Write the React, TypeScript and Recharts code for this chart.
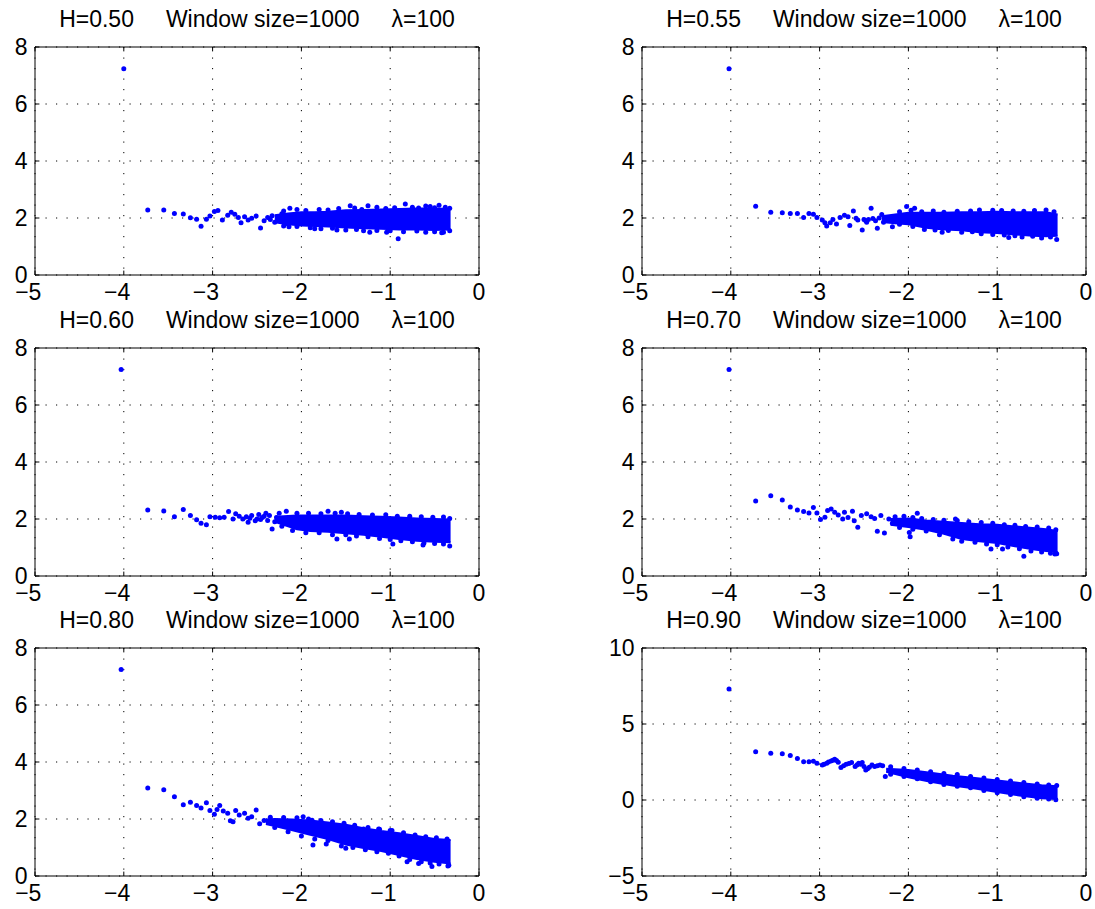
import React from 'react';
import { ComposedChart, Area, Scatter, XAxis, YAxis, CartesianGrid, ReferenceArea } from 'recharts';

const FONT = '"Liberation Sans", Arial, Helvetica, sans-serif';
const BLUE = '#0000FF';
const PW = 444;
const PH = 228;
const TOPPAD = 20;

const xTicks = [-5, -4, -3, -2, -1, 0];
const yTicks8 = [0, 2, 4, 6, 8];
const yTicks10 = [-5, 0, 5, 10];
const hurst = ['0.50', '0.55', '0.60', '0.70', '0.80', '0.90'];
const windowSize = 1000;
const lambda = 100;

// ---------- H = 0.50 ----------
const h050Pts = [
  [-4.0, 7.24], [-3.73, 2.28], [-3.55, 2.28], [-3.43, 2.16], [-3.33, 2.14], [-3.25, 2.01], [-3.18, 1.96],
  [-3.13, 1.71], [-3.07, 1.96], [-3.03, 2.07], [-2.98, 2.23], [-2.94, 2.26], [-2.89, 1.93], [-2.83, 2.1],
  [-2.79, 2.2], [-2.75, 2.13], [-2.71, 2.02], [-2.68, 1.83], [-2.64, 2.04], [-2.6, 1.93], [-2.56, 1.99],
  [-2.51, 2.07], [-2.46, 1.65], [-2.42, 1.9], [-2.38, 2.02], [-2.35, 1.95], [-2.33, 2.08], [-2.3, 1.85],
  [-2.27, 2.0], [-2.24, 1.92], [-2.22, 2.15], [-2.18, 1.8],
  [-2.13, 2.34], [-2.14, 1.69], [-1.45, 2.43], [-1.25, 2.43], [-1.23, 1.5], [-1.04, 1.5], [-0.91, 1.27],
  [-0.83, 2.49], [-0.4, 1.5], [-1.85, 1.62], [-1.6, 1.58], [-0.6, 2.42], [-0.45, 2.45],
  [-2.2, 2.25], [-2.05, 2.3], [-1.95, 2.26], [-1.8, 2.3], [-1.7, 2.28], [-1.58, 2.33],
  [-1.4, 2.35], [-1.32, 2.3], [-1.15, 2.38], [-1.05, 2.33], [-0.95, 2.36], [-0.75, 2.38], [-0.68, 2.35],
  [-0.55, 2.4], [-0.5, 2.36], [-0.38, 2.38], [-0.33, 2.34],
  [-2.2, 1.72], [-2.05, 1.7], [-1.9, 1.66], [-1.78, 1.62], [-1.65, 1.64], [-1.5, 1.58],
  [-1.38, 1.6], [-1.3, 1.55], [-1.15, 1.56], [-1.0, 1.55], [-0.85, 1.52], [-0.7, 1.54], [-0.6, 1.5],
  [-0.5, 1.52], [-0.42, 1.48], [-0.33, 1.55],
];
const h050BandX = [-2.3, -2.15, -2.0, -1.85, -1.7, -1.5, -1.3, -1.1, -0.9, -0.7, -0.5, -0.32];
const h050Lo = [1.85, 1.78, 1.74, 1.72, 1.7, 1.67, 1.64, 1.62, 1.6, 1.6, 1.58, 1.6];
const h050Hi = [2.1, 2.16, 2.2, 2.2, 2.22, 2.27, 2.28, 2.3, 2.32, 2.33, 2.33, 2.32];

// ---------- H = 0.55 ----------
const h055Pts = [
  [-4.02, 7.24], [-3.72, 2.41], [-3.55, 2.2], [-3.42, 2.18], [-3.33, 2.16], [-3.25, 2.16], [-3.18, 2.02],
  [-3.12, 2.16], [-3.07, 2.13], [-3.03, 2.02], [-2.97, 1.93], [-2.94, 1.83], [-2.92, 1.72], [-2.88, 1.83],
  [-2.85, 1.95], [-2.81, 1.79], [-2.77, 2.02], [-2.72, 2.1], [-2.68, 2.04], [-2.66, 1.74], [-2.62, 2.25],
  [-2.59, 1.99], [-2.57, 1.93], [-2.52, 1.58], [-2.5, 1.95], [-2.48, 1.9], [-2.47, 1.85], [-2.45, 1.95],
  [-2.42, 2.34], [-2.4, 1.98], [-2.37, 1.9], [-2.35, 1.64], [-2.33, 2.0], [-2.28, 1.85],
  [-2.18, 1.69], [-2.02, 2.4], [-1.93, 2.34], [-1.62, 1.5], [-0.87, 1.32], [-0.33, 1.25],
  [-2.3, 2.12], [-2.1, 2.22], [-1.97, 2.27], [-1.85, 2.22], [-1.72, 2.25], [-1.6, 2.2], [-1.45, 2.24],
  [-1.3, 2.25], [-1.2, 2.28], [-1.05, 2.27], [-0.95, 2.26], [-0.82, 2.25], [-0.7, 2.24], [-0.58, 2.26],
  [-0.45, 2.28], [-0.36, 2.22],
  [-2.1, 1.78], [-1.95, 1.7], [-1.82, 1.6], [-1.7, 1.58], [-1.55, 1.56], [-1.4, 1.5],
  [-1.28, 1.52], [-1.18, 1.45], [-1.05, 1.42], [-0.92, 1.4], [-0.8, 1.38], [-0.72, 1.33], [-0.6, 1.36],
  [-0.5, 1.3], [-0.4, 1.33],
];
const h055BandX = [-2.3, -2.15, -2.0, -1.8, -1.6, -1.4, -1.2, -1.0, -0.8, -0.6, -0.45, -0.32];
const h055Lo = [1.86, 1.82, 1.78, 1.66, 1.6, 1.57, 1.5, 1.47, 1.42, 1.38, 1.36, 1.38];
const h055Hi = [2.06, 2.12, 2.18, 2.18, 2.18, 2.2, 2.2, 2.22, 2.2, 2.2, 2.2, 2.12];

// ---------- H = 0.60 ----------
const h060Pts = [
  [-4.03, 7.25], [-3.73, 2.32], [-3.55, 2.28], [-3.43, 2.08], [-3.33, 2.33], [-3.25, 2.12], [-3.18, 1.97],
  [-3.13, 1.85], [-3.07, 1.8], [-3.03, 2.08], [-2.97, 2.06], [-2.92, 2.04], [-2.87, 2.06], [-2.82, 2.26],
  [-2.77, 2.0], [-2.74, 2.18], [-2.7, 2.1], [-2.66, 2.0], [-2.62, 2.08], [-2.6, 1.89], [-2.58, 2.03],
  [-2.56, 2.12], [-2.52, 1.94], [-2.5, 2.0], [-2.48, 2.16], [-2.46, 1.98], [-2.44, 2.05], [-2.42, 2.1],
  [-2.4, 2.2], [-2.38, 1.95], [-2.36, 2.12], [-2.33, 1.65], [-2.3, 1.9], [-2.28, 2.05], [-2.25, 1.98],
  [-2.17, 2.27], [-1.6, 1.3], [-1.46, 1.3],
  [-0.97, 1.12], [-0.63, 1.09], [-0.33, 1.05], [-1.7, 2.27], [-1.55, 2.24],
  [-2.25, 2.2], [-2.05, 2.2], [-1.92, 2.2], [-1.78, 2.18], [-1.62, 2.2], [-1.48, 2.18],
  [-1.35, 2.16], [-1.2, 2.14], [-1.05, 2.15], [-0.92, 2.1], [-0.78, 2.1], [-0.65, 2.08], [-0.52, 2.06],
  [-0.4, 2.07], [-0.33, 2.02],
  [-2.22, 1.75], [-2.1, 1.6], [-1.95, 1.52], [-1.8, 1.52], [-1.65, 1.45], [-1.5, 1.45], [-1.38, 1.4],
  [-1.25, 1.38], [-1.12, 1.32], [-1.0, 1.28], [-0.88, 1.24], [-0.75, 1.2], [-0.62, 1.16], [-0.5, 1.14],
  [-0.4, 1.12],
];
const h060BandX = [-2.3, -2.2, -2.05, -1.9, -1.7, -1.5, -1.3, -1.1, -0.9, -0.7, -0.5, -0.32];
const h060Lo = [1.9, 1.8, 1.64, 1.58, 1.55, 1.5, 1.45, 1.38, 1.3, 1.24, 1.2, 1.18];
const h060Hi = [2.08, 2.1, 2.12, 2.12, 2.12, 2.12, 2.1, 2.08, 2.05, 2.02, 2.0, 1.98];

// ---------- H = 0.70 ----------
const h070Pts = [
  [-4.02, 7.25], [-3.72, 2.63], [-3.55, 2.82], [-3.42, 2.67], [-3.33, 2.42], [-3.25, 2.32], [-3.18, 2.26],
  [-3.12, 2.21], [-3.07, 2.4], [-3.03, 2.21], [-2.99, 1.98], [-2.94, 2.06], [-2.91, 2.3], [-2.87, 2.35],
  [-2.83, 2.24], [-2.79, 2.14], [-2.74, 2.0], [-2.72, 2.24], [-2.68, 2.05], [-2.63, 2.27], [-2.61, 1.94],
  [-2.57, 1.71], [-2.53, 2.12], [-2.47, 2.18], [-2.42, 2.08], [-2.38, 2.02], [-2.35, 1.57], [-2.31, 2.12],
  [-2.27, 1.51], [-2.22, 2.0], [-2.18, 1.85], [-1.99, 1.53], [-1.98, 1.38], [-1.9, 2.2], [-1.47, 2.0],
  [-1.07, 0.95], [-0.94, 0.95], [-0.7, 0.69], [-0.35, 0.77],
  [-2.15, 2.08], [-2.05, 2.1], [-1.95, 2.05], [-1.85, 2.02], [-1.72, 1.98], [-1.6, 1.96], [-1.45, 1.95],
  [-1.32, 1.9], [-1.18, 1.88], [-1.05, 1.85], [-0.92, 1.8], [-0.8, 1.78], [-0.68, 1.74], [-0.55, 1.72],
  [-0.42, 1.68], [-0.34, 1.62],
  [-2.1, 1.7], [-1.95, 1.64], [-1.8, 1.58], [-1.65, 1.45], [-1.5, 1.3], [-1.4, 1.22], [-1.25, 1.18],
  [-1.12, 1.12], [-1.0, 1.1], [-0.88, 1.02], [-0.75, 0.96], [-0.62, 0.88], [-0.5, 0.84], [-0.4, 0.8],
  [-0.33, 0.78],
];
const h070BandX = [-2.2, -2.0, -1.8, -1.6, -1.4, -1.2, -1.0, -0.8, -0.6, -0.45, -0.32];
const h070Lo = [1.8, 1.72, 1.62, 1.48, 1.3, 1.22, 1.16, 1.04, 0.94, 0.88, 0.84];
const h070Hi = [2.0, 2.02, 1.95, 1.9, 1.86, 1.82, 1.8, 1.74, 1.68, 1.64, 1.58];

// ---------- H = 0.80 ----------
const h080Pts = [
  [-4.03, 7.25], [-3.73, 3.09], [-3.55, 3.03], [-3.43, 2.78], [-3.33, 2.5], [-3.25, 2.59], [-3.18, 2.47],
  [-3.13, 2.39], [-3.07, 2.57], [-3.03, 2.3], [-2.98, 2.17], [-2.95, 2.33], [-2.92, 2.47], [-2.88, 2.28],
  [-2.83, 2.2], [-2.8, 1.94], [-2.77, 1.9], [-2.74, 2.3], [-2.7, 2.14], [-2.64, 2.2], [-2.6, 2.03],
  [-2.56, 2.08], [-2.51, 2.32], [-2.47, 1.83], [-2.42, 1.95], [-1.87, 1.09], [-1.72, 1.12], [-1.5, 0.97],
  [-0.81, 0.5], [-0.68, 0.44], [-0.53, 0.33], [-0.35, 0.35], [-1.98, 2.08], [-1.88, 1.96], [-0.98, 1.6],
  [-1.13, 1.65], [-1.3, 1.65],
  [-2.35, 2.06], [-2.2, 2.05], [-2.05, 2.04], [-1.92, 2.0], [-1.78, 1.95], [-1.65, 1.9], [-1.52, 1.85],
  [-1.4, 1.78], [-1.25, 1.7], [-1.12, 1.64], [-1.0, 1.6], [-0.85, 1.52], [-0.72, 1.44], [-0.6, 1.38],
  [-0.48, 1.34], [-0.36, 1.3],
  [-2.3, 1.7], [-2.15, 1.55], [-2.0, 1.4], [-1.85, 1.3], [-1.7, 1.25], [-1.55, 1.05], [-1.42, 1.0],
  [-1.28, 0.92], [-1.15, 0.85], [-1.02, 0.8], [-0.9, 0.7], [-0.78, 0.58], [-0.65, 0.5], [-0.55, 0.46],
  [-0.45, 0.42], [-0.34, 0.38],
];
const h080BandX = [-2.4, -2.3, -2.1, -1.9, -1.7, -1.5, -1.3, -1.1, -0.9, -0.7, -0.5, -0.32];
const h080Lo = [1.82, 1.75, 1.6, 1.45, 1.3, 1.1, 0.98, 0.88, 0.74, 0.6, 0.5, 0.44];
const h080Hi = [1.98, 2.0, 1.98, 1.95, 1.88, 1.8, 1.68, 1.58, 1.5, 1.4, 1.3, 1.26];

// ---------- H = 0.90 ----------
const h090Pts = [
  [-4.02, 7.3], [-3.72, 3.17], [-3.55, 3.08], [-3.42, 3.04], [-3.33, 2.93], [-3.25, 2.73], [-3.18, 2.51],
  [-3.12, 2.51], [-3.07, 2.55], [-3.03, 2.42], [-2.97, 2.31], [-2.95, 2.35], [-2.92, 2.42], [-2.9, 2.5],
  [-2.87, 2.57], [-2.85, 2.62], [-2.83, 2.68], [-2.81, 2.6], [-2.79, 2.49], [-2.76, 2.14], [-2.73, 2.25],
  [-2.7, 2.36], [-2.67, 2.4], [-2.64, 2.47], [-2.6, 2.2], [-2.58, 2.3], [-2.56, 2.42], [-2.54, 2.35],
  [-2.52, 2.47], [-2.5, 2.2], [-2.48, 1.98], [-2.46, 2.05], [-2.44, 2.16], [-2.41, 2.3], [-2.38, 2.2],
  [-2.35, 2.25], [-2.32, 2.31], [-2.29, 2.25], [-2.26, 1.55],
  [-2.2, 2.18], [-2.05, 2.08], [-1.9, 1.98], [-1.75, 1.86], [-1.6, 1.75], [-1.45, 1.68], [-1.3, 1.55],
  [-1.15, 1.45], [-1.0, 1.35], [-0.85, 1.25], [-0.7, 1.15], [-0.55, 1.05], [-0.42, 0.98], [-0.33, 0.96],
  [-2.2, 1.7], [-2.05, 1.55], [-1.9, 1.4], [-1.75, 1.2], [-1.6, 1.02], [-1.45, 0.9], [-1.3, 0.8],
  [-1.15, 0.62], [-1.0, 0.48], [-0.85, 0.36], [-0.7, 0.22], [-0.55, 0.12], [-0.42, 0.06], [-0.34, 0.02],
];
const h090BandX = [-2.25, -2.0, -1.75, -1.5, -1.25, -1.0, -0.75, -0.5, -0.32];
const h090Lo = [1.85, 1.5, 1.2, 0.95, 0.75, 0.52, 0.3, 0.12, 0.06];
const h090Hi = [2.05, 1.98, 1.8, 1.6, 1.45, 1.28, 1.12, 0.97, 0.9];

const colLefts = [35, 642];
const rowTops = [47, 348, 648];

const toPts = (arr: number[][]) => arr.map(([x, y]) => ({ x, y }));
const toBand = (bx: number[], lo: number[], hi: number[]) => bx.map((x, i) => ({ x, band: [lo[i], hi[i]] }));

const panels = [
  { h: hurst[0], pts: h050Pts, band: toBand(h050BandX, h050Lo, h050Hi), yTicks: yTicks8 },
  { h: hurst[1], pts: h055Pts, band: toBand(h055BandX, h055Lo, h055Hi), yTicks: yTicks8 },
  { h: hurst[2], pts: h060Pts, band: toBand(h060BandX, h060Lo, h060Hi), yTicks: yTicks8 },
  { h: hurst[3], pts: h070Pts, band: toBand(h070BandX, h070Lo, h070Hi), yTicks: yTicks8 },
  { h: hurst[4], pts: h080Pts, band: toBand(h080BandX, h080Lo, h080Hi), yTicks: yTicks8 },
  { h: hurst[5], pts: h090Pts, band: toBand(h090BandX, h090Lo, h090Hi), yTicks: yTicks10 },
];

const fmt = (v: number) => (v < 0 ? '\u2212' + Math.abs(v) : String(v));

const XTick = (props: any) => {
  const { x, y, payload } = props;
  return (
    <g>
      <line x1={x} x2={x} y1={y} y2={y - 4.4} stroke="#000" strokeWidth={1} />
      <line x1={x} x2={x} y1={y - PH} y2={y - PH + 4.4} stroke="#000" strokeWidth={1} />
      <text x={x + 6.4} y={y + 25} textAnchor="end" fontFamily={FONT} fontSize={23} fill="#000">
        {fmt(payload.value)}
      </text>
    </g>
  );
};

const YTick = (props: any) => {
  const { x, y, payload } = props;
  return (
    <g>
      <line x1={x} x2={x + 4.4} y1={y} y2={y} stroke="#000" strokeWidth={1} />
      <line x1={x + PW - 4.4} x2={x + PW} y1={y} y2={y} stroke="#000" strokeWidth={1} />
      <text x={x - 7.5} y={y} dy="0.36em" textAnchor="end" fontFamily={FONT} fontSize={23} fill="#000">
        {fmt(payload.value)}
      </text>
    </g>
  );
};

const Dot = (p: any) => <circle cx={p.cx} cy={p.cy} r={2.5} fill={BLUE} />;

const Panel = ({ idx }: { idx: number }) => {
  const p = panels[idx];
  const left = colLefts[idx % 2];
  const top = rowTops[Math.floor(idx / 2)];
  const yMin = p.yTicks[0];
  const yMax = p.yTicks[p.yTicks.length - 1];
  return (
    <>
      <div style={{ position: 'absolute', left: left - 35, top: top - TOPPAD }}>
        <ComposedChart width={35 + PW + 8} height={TOPPAD + PH + 32} margin={{ top: TOPPAD, right: 8, bottom: 0, left: 0 }}>
          <CartesianGrid stroke="#000" strokeDasharray="1.2 9.3" strokeWidth={1} />
          <XAxis
            type="number"
            dataKey="x"
            domain={[-5, 0]}
            ticks={xTicks}
            interval={0}
            allowDataOverflow
            axisLine={false}
            tickLine={false}
            tickSize={0}
            tickMargin={0}
            height={32}
            tick={XTick}
          />
          <YAxis
            type="number"
            dataKey="y"
            domain={[yMin, yMax]}
            ticks={p.yTicks}
            interval={0}
            allowDataOverflow
            axisLine={false}
            tickLine={false}
            tickSize={0}
            tickMargin={0}
            width={35}
            tick={YTick}
          />
          <Area
            data={p.band}
            dataKey="band"
            type="linear"
            fill={BLUE}
            fillOpacity={1}
            stroke={BLUE}
            strokeWidth={2}
            dot={false}
            activeDot={false}
            isAnimationActive={false}
          />
          <Scatter data={toPts(p.pts)} fill={BLUE} shape={Dot} isAnimationActive={false} />
          <ReferenceArea x1={-5} x2={0} y1={yMin} y2={yMax} fill="none" fillOpacity={0} stroke="#000" strokeWidth={1} ifOverflow="visible" />
        </ComposedChart>
      </div>
      <div
        style={{
          position: 'absolute',
          left,
          top: top - 39.5,
          width: PW,
          textAlign: 'center',
          whiteSpace: 'pre',
          fontFamily: FONT,
          fontSize: 23,
          lineHeight: '23px',
          color: '#000',
        }}
      >
        {`H=${p.h}     Window size=${windowSize}     \u03bb=${lambda}`}
      </div>
    </>
  );
};

export default function App() {
  return (
    <div
      style={{
        position: 'absolute',
        left: 0,
        top: 0,
        width: 1095,
        height: 909,
        overflow: 'hidden',
        background: '#fff',
      }}
    >
      {panels.map((_, i) => (
        <Panel key={i} idx={i} />
      ))}
    </div>
  );
}
